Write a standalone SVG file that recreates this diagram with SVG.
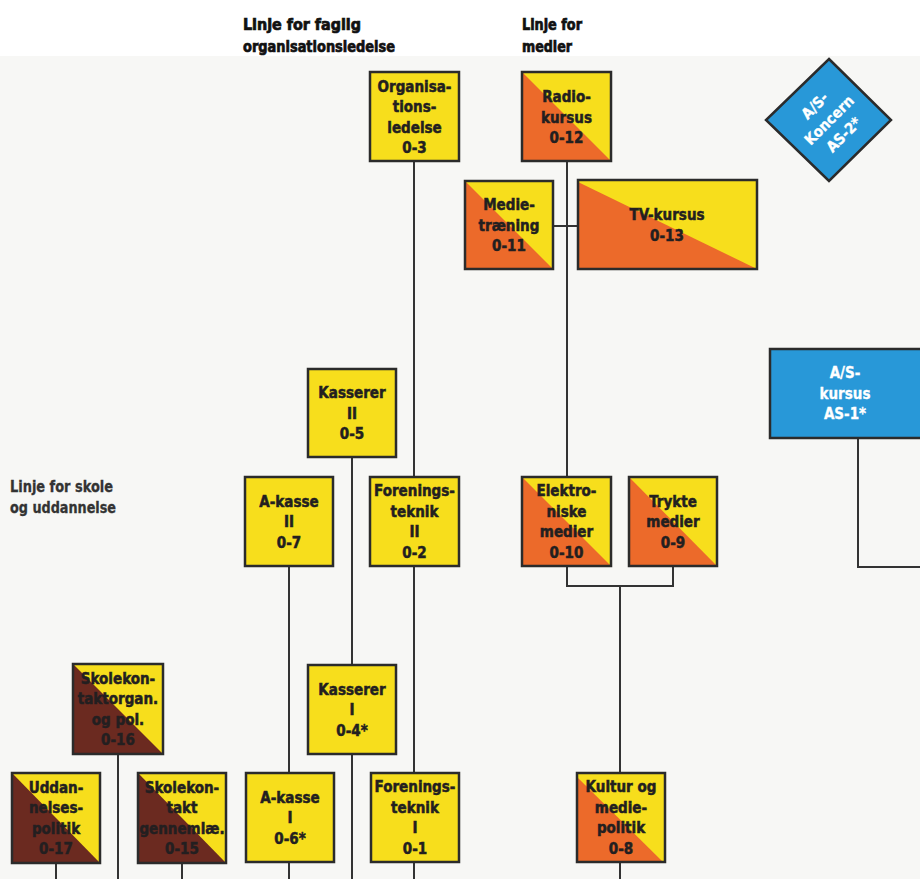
<svg xmlns="http://www.w3.org/2000/svg" width="920" height="879" viewBox="0 0 920 879">
<defs>
<style>
.bg{fill:#f7f7f5}
.box{stroke:#2b2b2b;stroke-width:2.5}
.y{fill:#f7de1c}
.o{fill:#ec6a2a}
.br{fill:#6b2a20}
.bl{fill:#2898d8}
.t{font-family:"DejaVu Sans Condensed","DejaVu Sans",sans-serif;font-weight:bold;font-size:15px;fill:#231f20;stroke:#231f20;stroke-width:0.5;text-anchor:middle}
.wt{fill:#ffffff;stroke:#ffffff;stroke-width:0.3}
.h{font-family:"DejaVu Sans Condensed","DejaVu Sans",sans-serif;font-weight:bold;font-size:16px;fill:#111111;stroke:#111111;stroke-width:0.7}
.hs{font-family:"DejaVu Sans Condensed","DejaVu Sans",sans-serif;font-weight:bold;font-size:15px;fill:#333333;stroke:#333333;stroke-width:0.3}
.c{fill:none;stroke:#333333;stroke-width:2}
</style>
</defs>
<rect class="bg" x="0" y="0" width="920" height="879"/>
<rect x="0" y="0" width="920" height="56" fill="#ffffff"/>

<g id="headers">
<text class="h" x="243" y="30" textLength="118" lengthAdjust="spacingAndGlyphs">Linje for faglig</text>
<text class="h" x="243" y="52" textLength="152" lengthAdjust="spacingAndGlyphs">organisationsledelse</text>
<text class="h" x="522" y="30" textLength="60" lengthAdjust="spacingAndGlyphs">Linje for</text>
<text class="h" x="522" y="52" textLength="50" lengthAdjust="spacingAndGlyphs">medier</text>
<text class="hs" x="10" y="492" textLength="103" lengthAdjust="spacingAndGlyphs">Linje for skole</text>
<text class="hs" x="10" y="513" textLength="106" lengthAdjust="spacingAndGlyphs">og uddannelse</text>
</g>

<g id="connectors">
<path class="c" d="M414 161V477M414 566V773M414 862V879"/>
<path class="c" d="M567 161V477M553 226H578"/>
<path class="c" d="M352 457V665M352 754V879"/>
<path class="c" d="M289 566V773M289 862V879"/>
<path class="c" d="M567 566V586H673V566M620 586V773M620 862V879"/>
<path class="c" d="M118 755V879M56 863V879M182 863V879"/>
<path class="c" d="M858 438V567H920"/>
</g>

<g id="n03">
<rect class="box y" x="370" y="72" width="89" height="89"/>
<text class="t"><tspan x="414.5" y="91.5">Organisa-</tspan><tspan x="414.5" y="112">tions-</tspan><tspan x="414.5" y="132.5">ledelse</tspan><tspan x="414.5" y="153">0-3</tspan></text>
</g>

<g id="n12">
<rect class="y" x="522" y="72" width="89" height="89"/>
<polygon class="o" points="522,72 522,161 611,161"/>
<rect class="box" fill="none" x="522" y="72" width="89" height="89"/>
<text class="t"><tspan x="566.5" y="102">Radio-</tspan><tspan x="566.5" y="122.5">kursus</tspan><tspan x="566.5" y="143">0-12</tspan></text>
</g>

<g id="n11">
<rect class="y" x="465" y="181" width="88" height="88"/>
<polygon class="o" points="465,181 465,269 553,269"/>
<rect class="box" fill="none" x="465" y="181" width="88" height="88"/>
<text class="t"><tspan x="509" y="210">Medie-</tspan><tspan x="509" y="230.5">træning</tspan><tspan x="509" y="251">0-11</tspan></text>
</g>

<g id="n13">
<rect class="y" x="578" y="180" width="179" height="89"/>
<polygon class="o" points="578,182 578,269 757,269"/>
<rect class="box" fill="none" x="578" y="180" width="179" height="89"/>
<text class="t"><tspan x="667" y="220">TV-kursus</tspan><tspan x="667" y="240.5">0-13</tspan></text>
</g>

<g id="as2">
<polygon class="box bl" points="829,59 891,120 829,181 766,120"/>
<g transform="rotate(-45 829 120)">
<text class="t wt"><tspan x="829" y="105">A/S-</tspan><tspan x="829" y="125.5">Koncern</tspan><tspan x="829" y="146">AS-2*</tspan></text>
</g>
</g>

<g id="as1">
<rect class="box bl" x="770" y="349" width="160" height="89"/>
<text class="t wt"><tspan x="845" y="378">A/S-</tspan><tspan x="845" y="398.5">kursus</tspan><tspan x="845" y="419">AS-1*</tspan></text>
</g>

<g id="n05">
<rect class="box y" x="308" y="369" width="88" height="88"/>
<text class="t"><tspan x="352" y="398">Kasserer</tspan><tspan x="352" y="418.5">II</tspan><tspan x="352" y="439">0-5</tspan></text>
</g>

<g id="n07">
<rect class="box y" x="245" y="477" width="88" height="89"/>
<text class="t"><tspan x="289" y="506.5">A-kasse</tspan><tspan x="289" y="527">II</tspan><tspan x="289" y="547.5">0-7</tspan></text>
</g>

<g id="n02">
<rect class="box y" x="370" y="477" width="89" height="89"/>
<text class="t"><tspan x="414.5" y="496">Forenings-</tspan><tspan x="414.5" y="516.5">teknik</tspan><tspan x="414.5" y="537">II</tspan><tspan x="414.5" y="557.5">0-2</tspan></text>
</g>

<g id="n10">
<rect class="y" x="522" y="477" width="89" height="89"/>
<polygon class="o" points="522,477 522,566 611,566"/>
<rect class="box" fill="none" x="522" y="477" width="89" height="89"/>
<text class="t"><tspan x="566.5" y="496">Elektro-</tspan><tspan x="566.5" y="516.5">niske</tspan><tspan x="566.5" y="537">medier</tspan><tspan x="566.5" y="557.5">0-10</tspan></text>
</g>

<g id="n09">
<rect class="y" x="629" y="477" width="88" height="89"/>
<polygon class="o" points="629,477 629,566 717,566"/>
<rect class="box" fill="none" x="629" y="477" width="88" height="89"/>
<text class="t"><tspan x="673" y="506.5">Trykte</tspan><tspan x="673" y="527">medier</tspan><tspan x="673" y="547.5">0-9</tspan></text>
</g>

<g id="n04">
<rect class="box y" x="308" y="665" width="88" height="89"/>
<text class="t"><tspan x="352" y="694.5">Kasserer</tspan><tspan x="352" y="715">I</tspan><tspan x="352" y="735.5">0-4*</tspan></text>
</g>

<g id="n06">
<rect class="box y" x="246" y="773" width="88" height="89"/>
<text class="t"><tspan x="290" y="802.5">A-kasse</tspan><tspan x="290" y="823">I</tspan><tspan x="290" y="843.5">0-6*</tspan></text>
</g>

<g id="n01">
<rect class="box y" x="371" y="773" width="88" height="89"/>
<text class="t"><tspan x="415" y="792">Forenings-</tspan><tspan x="415" y="812.5">teknik</tspan><tspan x="415" y="833">I</tspan><tspan x="415" y="853.5">0-1</tspan></text>
</g>

<g id="n08">
<rect class="y" x="577" y="773" width="88" height="89"/>
<polygon class="o" points="577,777 577,862 663,862"/>
<rect class="box" fill="none" x="577" y="773" width="88" height="89"/>
<text class="t"><tspan x="621" y="792">Kultur og</tspan><tspan x="621" y="812.5">medie-</tspan><tspan x="621" y="833">politik</tspan><tspan x="621" y="853.5">0-8</tspan></text>
</g>

<g id="n16">
<rect class="y" x="73" y="664" width="90" height="90"/>
<polygon class="br" points="73,664 73,754 163,754"/>
<rect class="box" fill="none" x="73" y="664" width="90" height="90"/>
<text class="t"><tspan x="118" y="683.5">Skolekon-</tspan><tspan x="118" y="704">taktorgan.</tspan><tspan x="118" y="724.5">og pol.</tspan><tspan x="118" y="745">0-16</tspan></text>
</g>

<g id="n17">
<rect class="y" x="12" y="773" width="88" height="90"/>
<polygon class="br" points="12,773 12,863 100,863"/>
<rect class="box" fill="none" x="12" y="773" width="88" height="90"/>
<text class="t"><tspan x="56" y="792.5">Uddan-</tspan><tspan x="56" y="813">nelses-</tspan><tspan x="56" y="833.5">politik</tspan><tspan x="56" y="854">0-17</tspan></text>
</g>

<g id="n15">
<rect class="y" x="138" y="773" width="88" height="90"/>
<polygon class="br" points="138,773 138,863 226,863"/>
<rect class="box" fill="none" x="138" y="773" width="88" height="90"/>
<text class="t"><tspan x="182" y="792.5">Skolekon-</tspan><tspan x="182" y="813">takt</tspan><tspan x="182" y="833.5">gennemlæ.</tspan><tspan x="182" y="854">0-15</tspan></text>
</g>
</svg>
